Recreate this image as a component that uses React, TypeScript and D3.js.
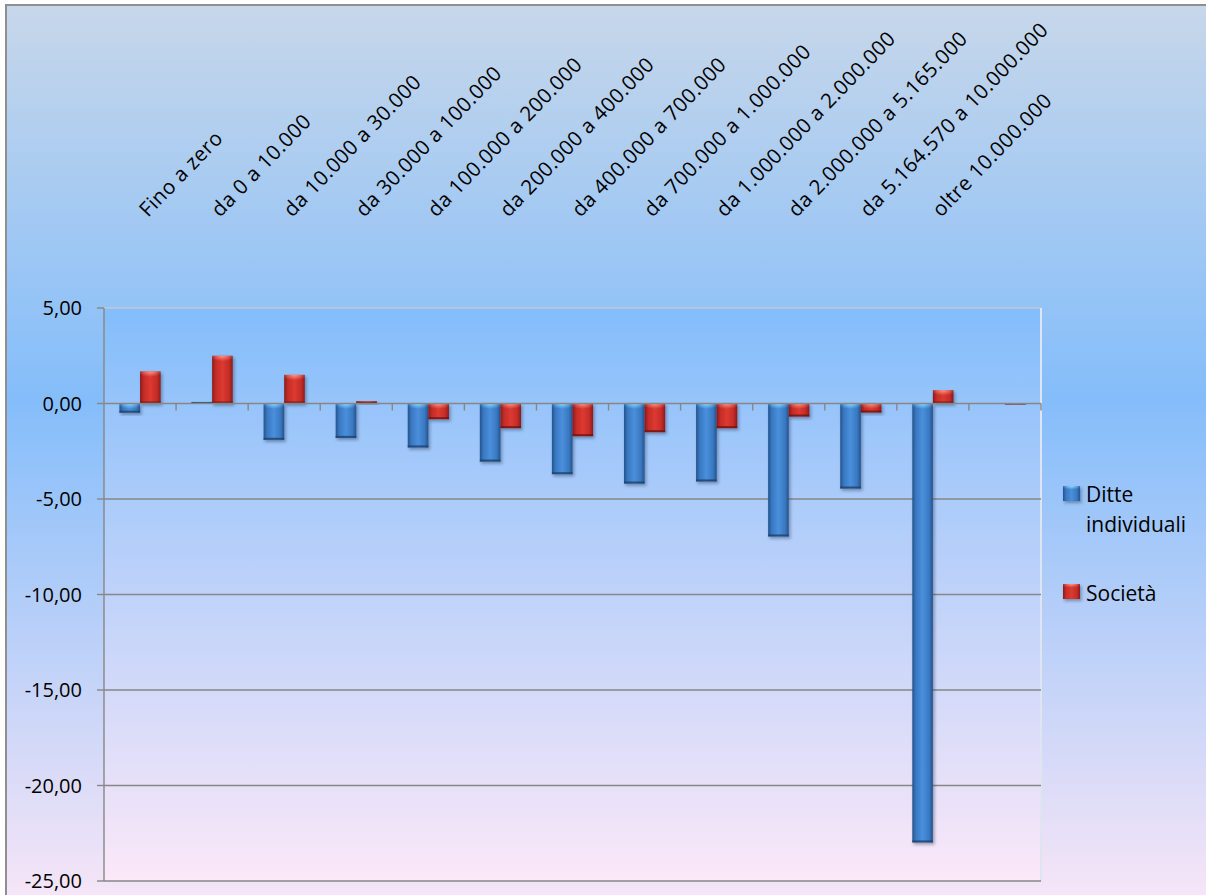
import React from "react";
import * as d3 from "d3";

// Income brackets (last slot has no label)
const categories: string[] = [
  "Fino a zero",
  "da 0 a 10.000",
  "da 10.000 a 30.000",
  "da 30.000 a 100.000",
  "da 100.000 a 200.000",
  "da 200.000 a 400.000",
  "da 400.000 a 700.000",
  "da 700.000 a 1.000.000",
  "da 1.000.000 a 2.000.000",
  "da 2.000.000 a 5.165.000",
  "da 5.164.570 a 10.000.000",
  "oltre 10.000.000",
  "",
];

const seriesNames: string[] = ["Ditte individuali", "Società"];

const ditteIndividuali: number[] = [
  -0.48, 0.08, -1.9, -1.8, -2.3, -3.04, -3.7, -4.19, -4.08, -6.96, -4.45, -22.98, 0,
];
const societa: number[] = [
  1.68, 2.5, 1.5, 0.12, -0.82, -1.29, -1.71, -1.5, -1.29, -0.68, -0.47, 0.7, -0.05,
];

const yTicks: number[] = [5, 0, -5, -10, -15, -20, -25];

const W = 1206;
const H = 895;
const plot = { left: 104, right: 1041, top: 308, bottom: 881 };
const FONT = "'Open Sans', 'DejaVu Sans', sans-serif";

const palettes = [
  { edge: "#24548c", mid: "#3a78c2", center: "#4a8fdc", glint: "#8fe0ff", rim: "#1d416c" },
  { edge: "#8a1b1b", mid: "#c42c28", center: "#dc3a31", glint: "#ff9c8c", rim: "#6e1414" },
];

function Bar({ x, y, w, h, s }: { x: number; y: number; w: number; h: number; s: number }) {
  if (h <= 0) return null;
  const glintH = Math.min(9, h);
  const rimH = Math.min(2, h);
  return (
    <g filter="url(#barShadow)">
      <rect x={x} y={y} width={w} height={h} fill={`url(#body${s})`} />
      <rect x={x} y={y} width={w} height={glintH} fill={`url(#glint${s})`} />
      <rect x={x} y={y + h - rimH} width={w} height={rimH} fill={palettes[s].rim} opacity={0.8} />
    </g>
  );
}

export default function App() {
  const x = d3.scaleBand<string>().domain(categories.map((c, i) => `${i}`)).range([plot.left, plot.right]);
  const bw = x.bandwidth();
  const gap = (bw * 1.5) / 3.5;
  const xs = d3.scaleBand<string>().domain(seriesNames).range([gap / 2, bw - gap / 2]);
  const y = d3.scaleLinear().domain([-25, 5]).range([plot.bottom, plot.top]);
  const fmt = (v: number) => d3.format(".2f")(v).replace(".", ",").replace("−", "-");

  const series = [ditteIndividuali, societa];
  const y0 = y(0);

  return (
    <div style={{ position: "absolute", left: 0, top: 0 }}>
      <svg width={W} height={H} style={{ display: "block" }}>
        <defs>
          <linearGradient id="chartBg" x1="0" y1="0" x2="0" y2="1">
            <stop offset="0" stopColor="#c7d7ea" />
            <stop offset="0.43" stopColor="#84bdfa" />
            <stop offset="1" stopColor="#fbe7f7" />
          </linearGradient>
          <linearGradient id="plotBg" x1="0" y1="0" x2="0" y2="1">
            <stop offset="0" stopColor="#83bdfb" />
            <stop offset="1" stopColor="#fbe8f8" />
          </linearGradient>
          {palettes.map((p, i) => (
            <linearGradient key={`b${i}`} id={`body${i}`} x1="0" y1="0" x2="1" y2="0">
              <stop offset="0" stopColor={p.edge} />
              <stop offset="0.18" stopColor={p.mid} />
              <stop offset="0.5" stopColor={p.center} />
              <stop offset="0.82" stopColor={p.mid} />
              <stop offset="1" stopColor={p.edge} />
            </linearGradient>
          ))}
          {palettes.map((p, i) => (
            <radialGradient key={`g${i}`} id={`glint${i}`} cx="0.5" cy="0" r="0.6" fx="0.5" fy="0">
              <stop offset="0" stopColor={p.glint} stopOpacity="0.95" />
              <stop offset="0.6" stopColor={p.glint} stopOpacity="0.35" />
              <stop offset="1" stopColor={p.glint} stopOpacity="0" />
            </radialGradient>
          ))}
          <filter id="barShadow" x="-30%" y="-30%" width="160%" height="160%">
            <feDropShadow dx="1.5" dy="2" stdDeviation="1.6" floodColor="#1a2a40" floodOpacity="0.4" />
          </filter>
        </defs>

        {/* chart area */}
        <rect x={6} y={5} width={W + 20} height={H + 20} fill="url(#chartBg)" stroke="#8f8f8f" strokeWidth={2} />

        {/* plot area */}
        <rect x={plot.left} y={plot.top} width={plot.right - plot.left} height={plot.bottom - plot.top} fill="url(#plotBg)" />
        <line x1={plot.left} x2={plot.right} y1={plot.top} y2={plot.top} stroke="#c3c9d3" strokeWidth={1.5} />
        <line x1={plot.right} x2={plot.right} y1={plot.top} y2={plot.bottom} stroke="#dfe5f0" strokeWidth={2} />

        {/* gridlines */}
        {yTicks.filter((t) => t !== 0 && t !== 5).map((t) => (
          <line key={t} x1={plot.left} x2={plot.right} y1={y(t)} y2={y(t)} stroke="#878787" strokeWidth={1.4} />
        ))}

        {/* y axis */}
        <line x1={plot.left} x2={plot.left} y1={plot.top} y2={plot.bottom} stroke="#878787" strokeWidth={1.4} />
        {yTicks.map((t) => (
          <g key={`yt${t}`}>
            <line x1={plot.left - 7} x2={plot.left} y1={y(t)} y2={y(t)} stroke="#878787" strokeWidth={1.4} />
            <text x={82} y={y(t)} dy="0.36em" textAnchor="end" fontFamily={FONT} fontSize={20} fill="#000">
              {fmt(t)}
            </text>
          </g>
        ))}

        {/* bars */}
        {categories.map((c, i) =>
          series.map((vals, s) => {
            const v = vals[i];
            const yv = y(v);
            const top = Math.min(yv, y0);
            const h = Math.abs(yv - y0);
            return (
              <Bar key={`${i}-${s}`} x={(x(`${i}`) as number) + (xs(seriesNames[s]) as number)} y={top} w={xs.bandwidth()} h={h} s={s} />
            );
          })
        )}

        {/* category axis at zero */}
        <line x1={plot.left} x2={plot.right} y1={y0} y2={y0} stroke="#878787" strokeWidth={1.6} />
        {categories.map((c, i) => (
          <line key={`xt${i}`} x1={(x(`${i}`) as number) + bw} x2={(x(`${i}`) as number) + bw} y1={y0} y2={y0 + 7} stroke="#878787" strokeWidth={1.4} />
        ))}

        {/* category labels above the plot */}
        {categories.map((c, i) => {
          const cx = (x(`${i}`) as number) + bw / 2 + 8;
          return (
            <text key={`lbl${i}`} transform={`translate(${cx},218) rotate(-46)`} fontFamily={FONT} fontSize={20.5} letterSpacing={0.45} fill="#000">
              {c}
            </text>
          );
        })}

        {/* legend */}
        {seriesNames.map((n, s) => {
          const ly = s === 0 ? 486 : 584;
          return (
            <g key={n}>
              <g filter="url(#barShadow)">
                <rect x={1063} y={ly} width={17} height={15} fill={`url(#body${s})`} />
                <rect x={1063} y={ly} width={17} height={6} fill={`url(#glint${s})`} />
              </g>
              {s === 0 ? (
                <text fontFamily={FONT} fontSize={21} fill="#000">
                  <tspan x={1086} y={502}>Ditte</tspan>
                  <tspan x={1086} y={532}>individuali</tspan>
                </text>
              ) : (
                <text x={1086} y={601} fontFamily={FONT} fontSize={21} fill="#000">
                  {n}
                </text>
              )}
            </g>
          );
        })}
      </svg>
    </div>
  );
}
